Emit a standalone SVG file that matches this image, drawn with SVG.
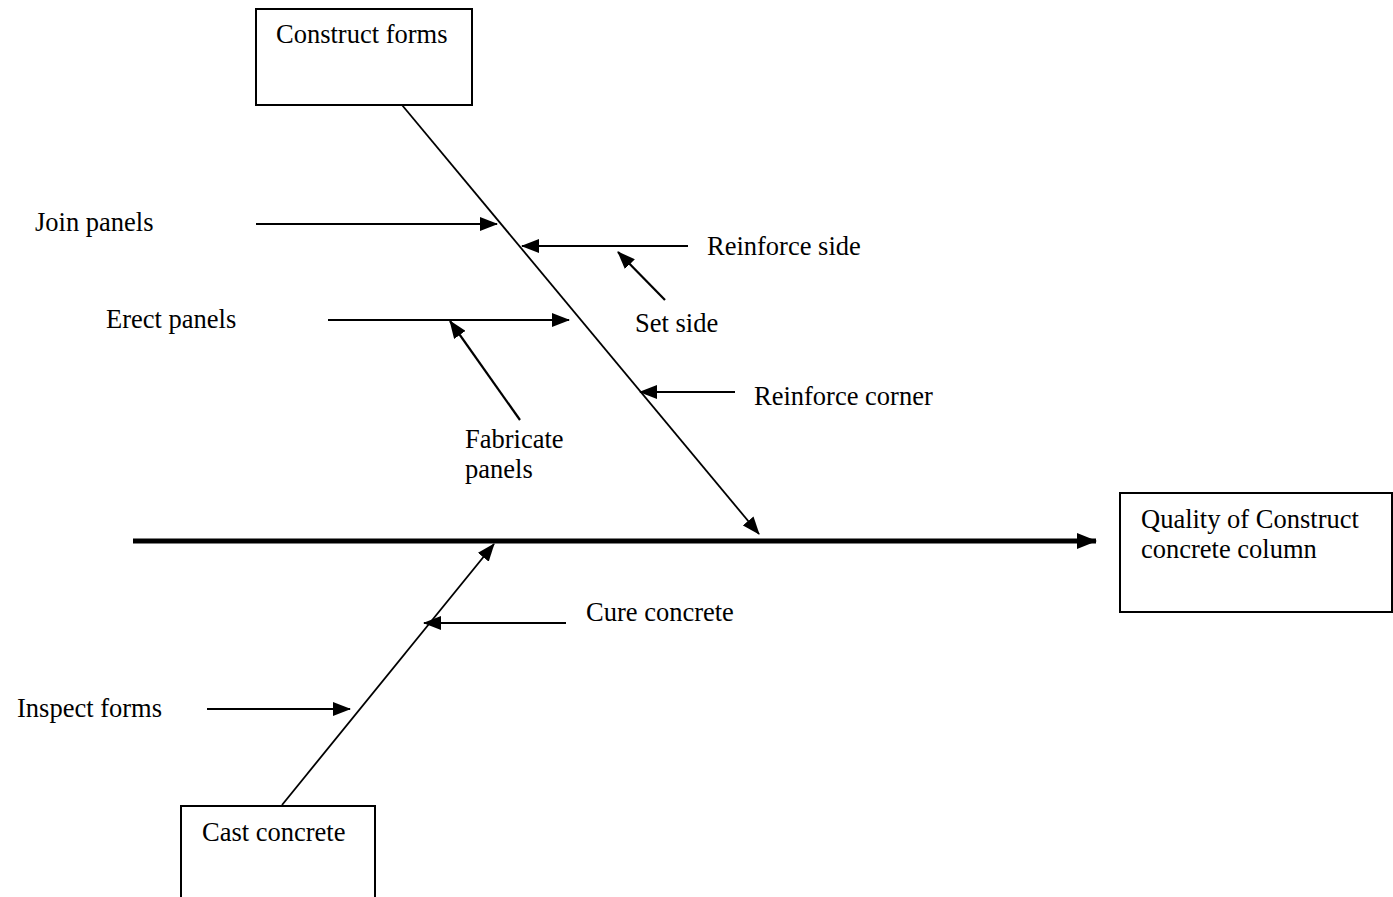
<svg xmlns="http://www.w3.org/2000/svg" width="1393" height="897" viewBox="0 0 1393 897">
  <style>
    text { font-family: "Liberation Serif", "Times New Roman", serif; font-size: 26.5px; fill: #000; }
    .box { fill: #fff; stroke: #000; stroke-width: 2; }
    .bone { stroke: #000; stroke-width: 1.8; fill: none; }
    .cause { stroke: #000; stroke-width: 2.2; fill: none; marker-end: url(#head); }
    .spine { stroke: #000; stroke-width: 5; fill: none; marker-end: url(#bighead); }
  </style>
  <defs>
    <marker id="head" markerUnits="userSpaceOnUse" markerWidth="18" markerHeight="14" refX="17" refY="7" orient="auto">
      <path d="M0,0 L18,7 L0,14 Z" fill="#000"/>
    </marker>
    <marker id="bighead" markerUnits="userSpaceOnUse" markerWidth="20" markerHeight="16" refX="19" refY="8" orient="auto">
      <path d="M0,0 L20,8 L0,16 Z" fill="#000"/>
    </marker>
  </defs>

  <!-- connectors: spine, main bones and cause arrows -->
  <g id="connectors">
    <line class="spine" x1="133" y1="541" x2="1096" y2="541"/>
    <line class="bone" x1="402" y1="105" x2="759" y2="534" marker-end="url(#head)"/>
    <line class="bone" x1="282" y1="805" x2="494" y2="544" marker-end="url(#head)"/>
    <line class="cause" x1="256" y1="224" x2="497" y2="224"/>
    <line class="cause" x1="688" y1="246" x2="522" y2="246"/>
    <line class="cause" x1="665" y1="300" x2="618" y2="252"/>
    <line class="cause" x1="328" y1="320" x2="569" y2="320"/>
    <line class="cause" x1="520" y1="420" x2="450" y2="321"/>
    <line class="cause" x1="735" y1="392" x2="640" y2="392"/>
    <line class="cause" x1="566" y1="623" x2="424" y2="623"/>
    <line class="cause" x1="207" y1="709" x2="350" y2="709"/>
  </g>

  <g id="construct-forms">
    <rect class="box" x="256" y="9" width="216" height="96"/>
    <text x="276" y="43">Construct forms</text>
  </g>

  <g id="quality">
    <rect class="box" x="1120" y="493" width="272" height="119"/>
    <text x="1141" y="528">Quality of Construct</text>
    <text x="1141" y="558">concrete column</text>
  </g>

  <g id="cast-concrete">
    <rect class="box" x="181" y="806" width="194" height="95"/>
    <text x="202" y="841">Cast concrete</text>
  </g>

  <g id="join-panels"><text x="35" y="231">Join panels</text></g>
  <g id="reinforce-side"><text x="707" y="255">Reinforce side</text></g>
  <g id="set-side"><text x="635" y="332">Set side</text></g>
  <g id="erect-panels"><text x="106" y="328">Erect panels</text></g>
  <g id="fabricate-panels">
    <text x="465" y="448">Fabricate</text>
    <text x="465" y="478">panels</text>
  </g>
  <g id="reinforce-corner"><text x="754" y="405">Reinforce corner</text></g>
  <g id="cure-concrete"><text x="586" y="621">Cure concrete</text></g>
  <g id="inspect-forms"><text x="17" y="717">Inspect forms</text></g>
</svg>
